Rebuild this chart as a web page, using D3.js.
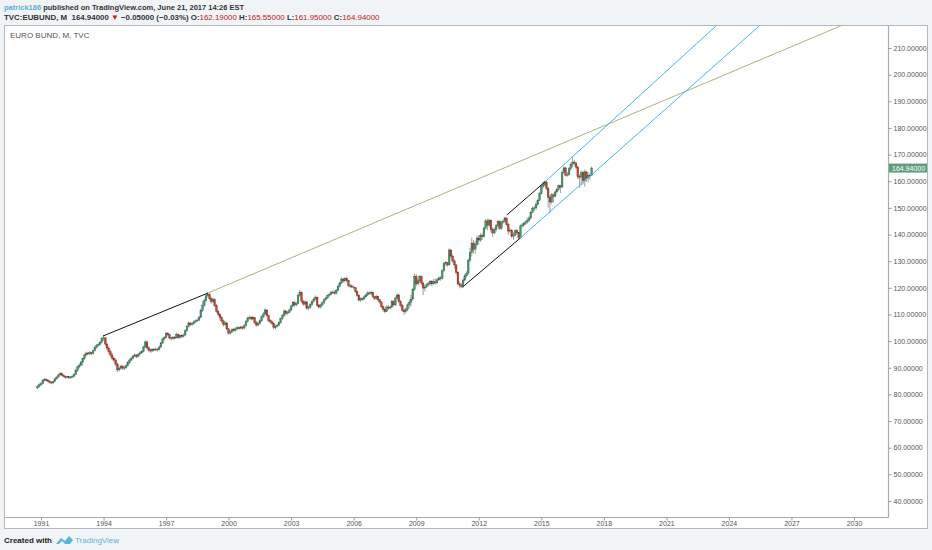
<!DOCTYPE html>
<html><head><meta charset="utf-8">
<script src="https://cdn.jsdelivr.net/npm/d3@7"></script>
<style>html,body{margin:0;padding:0;background:#f1f4f7;}svg{display:block}</style>
</head><body><svg id="c" width="932" height="550"></svg>
<script>
// ---------------- DATA ----------------
const firstMonth = "1990-11";
const firstOpen = 82.4;
const closes = [
 83.0, 83.6,
 84.0, 85.2, 85.6, 85.4, 85.0, 84.6, 84.3, 84.9, 85.8, 86.5, 87.3, 87.9,
 87.2, 86.8, 86.4, 86.6, 86.3, 86.5, 86.8, 87.5, 88.9, 90.3, 91.0, 92.1,
 93.4, 94.8, 95.5, 95.2, 95.7, 95.3, 96.4, 97.5, 98.3, 98.8, 99.6, 100.9,
 101.2, 98.9, 97.4, 96.0, 94.8, 93.5, 92.9, 91.4, 89.2, 89.8, 90.6, 89.9,
 90.0, 90.8, 91.9, 92.9, 93.6, 94.4, 94.8, 94.2, 95.1, 95.6, 96.0, 97.8,
 99.7, 97.5, 96.7, 96.3, 96.9, 96.7, 97.0, 96.8, 97.8, 99.3, 100.8, 101.4,
 103.0, 102.4, 101.2, 100.9, 101.4, 101.2, 102.6, 101.3, 102.0, 101.8, 102.3, 103.9,
 105.5, 106.8, 106.2, 106.5, 107.2, 107.6, 107.9, 109.0, 111.6, 113.5, 115.2, 117.0,
 117.5, 116.0, 114.8, 115.6, 113.4, 111.2, 110.0, 108.9, 107.6, 106.3, 106.8, 104.6,
 103.0, 103.5, 104.3, 104.0, 104.6, 105.0, 104.8, 105.3, 104.9, 105.9, 107.4, 108.6,
 109.0, 108.3, 108.8, 107.1, 106.0, 106.5, 107.6, 109.1, 110.2, 111.7, 109.6, 107.8,
 107.2, 106.6, 105.0, 105.6, 106.0, 106.9, 108.4, 109.5, 111.3, 110.4, 110.8, 111.7,
 113.2, 114.4, 113.6, 114.1, 117.2, 118.4, 115.0, 113.9, 114.7, 112.4, 112.6, 113.8,
 114.9, 115.8, 116.5, 113.4, 112.8, 113.6, 114.4, 115.6, 116.2, 117.1, 117.6, 118.4,
 118.4, 118.0, 119.1, 120.6, 121.8, 123.3, 122.6, 123.4, 122.8, 120.9, 120.6, 120.3,
 120.0, 118.6, 117.2, 115.4, 115.9, 115.8, 116.6, 117.3, 118.1, 117.9, 118.3, 116.7,
 116.0, 116.8, 115.5, 114.7, 112.9, 111.9, 111.0, 112.8, 112.4, 112.8, 114.9, 113.6,
 116.2, 117.3, 114.9, 113.4, 111.6, 111.0, 111.8, 113.6, 114.6, 115.8, 119.4, 124.3,
 121.5, 122.6, 124.2, 121.8, 119.9, 120.3, 121.1, 121.6, 122.4, 121.5, 122.3, 121.9,
 123.0, 123.7, 123.4, 126.4, 129.1, 129.4, 128.6, 134.2, 131.9, 130.1, 128.6, 125.8,
 121.5, 121.0, 120.6, 122.9, 124.5, 125.4, 130.4, 133.3, 136.8, 134.5, 136.2, 138.7,
 137.9, 139.7, 139.2, 142.4, 145.1, 143.5, 145.4, 142.0, 140.6, 141.9, 143.3, 144.9,
 142.3, 144.7, 145.0, 146.2, 143.8, 141.3, 141.6, 139.4, 139.8, 141.5, 140.7, 138.8,
 143.2, 143.6, 144.2, 144.7, 145.4, 146.2, 148.3, 149.9, 150.0, 151.4, 152.9, 155.3,
 158.1, 158.6, 159.7, 157.4, 153.9, 152.2, 154.9, 154.3, 156.0, 157.0, 158.3, 157.8,
 163.4, 165.0, 162.3, 162.5, 164.7, 166.3, 167.2, 166.8, 165.3, 161.7, 161.6, 163.2,
 160.2, 163.5, 161.2, 162.2, 162.19, 164.94
];
const highs = [
 83.5, 84.2,
 84.6, 85.7, 86.2, 86.1, 85.8, 85.4, 85.0, 85.3, 86.2, 86.9, 87.7, 88.4,
 88.2, 87.6, 87.1, 87.0, 86.9, 86.9, 87.3, 87.9, 89.6, 90.8, 91.6, 92.6,
 93.8, 95.3, 96.1, 95.9, 96.2, 96.0, 96.9, 98.1, 98.9, 99.4, 100.1, 101.5,
 102.3, 101.6, 99.5, 98.1, 96.8, 95.5, 94.1, 93.6, 91.9, 90.6, 91.2, 91.0,
 90.7, 91.3, 92.5, 93.4, 94.2, 94.9, 95.4, 95.1, 95.6, 96.1, 96.6, 98.3,
 100.3, 100.1, 98.0, 97.2, 97.4, 97.5, 97.6, 97.5, 98.3, 99.8, 101.3, 101.9,
 103.5, 103.3, 102.8, 101.7, 101.9, 101.9, 103.1, 102.9, 102.5, 102.6, 102.8, 104.4,
 106.0, 107.3, 107.2, 107.0, 107.7, 108.1, 108.5, 109.5, 112.2, 115.0, 116.0, 117.6,
 118.4, 118.0, 116.6, 116.3, 116.1, 113.9, 111.8, 110.6, 109.5, 108.1, 107.5, 107.3,
 104.9, 104.1, 104.8, 104.9, 105.2, 105.6, 105.5, 105.8, 105.6, 106.4, 107.9, 109.2,
 109.6, 109.3, 109.4, 109.0, 107.6, 107.0, 108.2, 109.7, 111.0, 112.4, 111.9, 109.9,
 108.3, 107.7, 106.9, 106.2, 106.6, 107.4, 108.9, 110.2, 111.9, 111.8, 111.4, 112.3,
 113.8, 115.0, 115.1, 114.7, 117.8, 119.1, 118.6, 115.6, 115.3, 115.0, 113.4, 114.3,
 115.4, 116.3, 117.2, 116.8, 113.9, 114.1, 114.9, 116.1, 116.8, 117.6, 118.2, 118.9,
 119.0, 119.1, 119.6, 121.1, 122.3, 123.9, 123.8, 124.0, 124.2, 123.1, 121.5, 121.3,
 120.9, 120.3, 119.0, 117.6, 116.4, 116.5, 117.1, 117.8, 118.7, 118.6, 118.9, 118.5,
 117.0, 117.3, 117.0, 115.9, 115.0, 113.4, 112.4, 113.5, 113.6, 113.3, 115.4, 115.3,
 116.8, 117.9, 117.8, 115.4, 113.9, 112.3, 112.6, 114.2, 115.6, 117.5, 120.0, 125.4,
 125.1, 123.3, 124.8, 124.6, 122.3, 121.2, 121.7, 122.3, 123.0, 122.9, 123.4, 123.5,
 123.6, 124.3, 124.4, 127.0, 129.8, 130.1, 129.8, 134.9, 134.6, 132.6, 130.8, 128.9,
 126.2, 122.4, 121.9, 123.5, 125.2, 126.2, 131.0, 135.0, 138.8, 137.9, 137.6, 139.6,
 139.8, 140.4, 140.3, 143.0, 145.8, 145.9, 146.0, 145.6, 142.7, 142.6, 143.9, 145.4,
 145.4, 145.2, 145.6, 146.7, 146.4, 144.4, 142.5, 142.0, 140.9, 142.1, 142.0, 141.0,
 143.8, 144.2, 144.8, 145.3, 146.3, 146.9, 148.9, 150.5, 150.8, 152.4, 153.4, 156.0,
 158.8, 159.7, 160.3, 160.4, 157.9, 154.8, 155.6, 155.5, 156.6, 157.6, 158.8, 158.7,
 164.1, 165.6, 165.4, 163.5, 165.3, 167.0, 168.9, 168.0, 167.4, 165.8, 162.6, 164.0,
 164.0, 164.4, 163.9, 163.4, 162.9, 165.55
];
const lows = [
 82.0, 82.6,
 83.1, 83.7, 84.8, 84.9, 84.6, 84.1, 83.8, 84.0, 84.6, 85.5, 86.2, 87.0,
 86.8, 86.4, 85.9, 86.0, 85.8, 85.9, 86.1, 86.4, 87.1, 88.4, 89.7, 90.6,
 90.8, 93.0, 94.4, 94.6, 94.8, 94.7, 95.0, 96.1, 97.2, 97.9, 98.3, 99.2,
 100.1, 98.2, 96.5, 95.2, 93.9, 92.7, 92.1, 90.5, 88.4, 88.6, 89.3, 89.1,
 89.2, 89.7, 90.5, 91.5, 92.5, 93.2, 93.9, 93.6, 93.9, 94.7, 95.2, 95.8,
 97.3, 97.0, 96.0, 95.6, 95.8, 96.1, 96.2, 96.2, 96.4, 97.4, 98.9, 100.2,
 101.0, 101.9, 100.6, 100.2, 100.5, 100.7, 101.0, 100.8, 100.9, 101.1, 101.3, 102.0,
 103.5, 105.1, 105.6, 105.7, 106.1, 106.8, 107.2, 107.5, 108.6, 110.9, 112.8, 114.8,
 116.4, 115.4, 114.0, 114.2, 112.8, 110.6, 109.3, 108.0, 106.8, 105.4, 105.7, 103.9,
 102.4, 102.6, 103.2, 103.4, 103.6, 104.2, 104.2, 104.5, 104.2, 104.5, 105.5, 107.0,
 108.1, 107.7, 107.8, 106.4, 105.4, 105.6, 106.2, 107.2, 108.6, 109.8, 109.0, 107.1,
 106.5, 106.0, 104.4, 104.5, 105.1, 105.6, 106.5, 107.9, 109.1, 109.6, 109.9, 110.4,
 111.2, 112.7, 112.8, 113.0, 113.8, 116.6, 114.4, 113.2, 113.3, 111.8, 111.6, 112.2,
 113.3, 114.4, 115.3, 112.9, 112.1, 112.2, 113.1, 114.0, 115.2, 115.8, 116.7, 117.2,
 117.7, 117.4, 117.6, 118.8, 120.1, 121.4, 121.9, 122.0, 122.1, 120.3, 119.9, 119.8,
 119.3, 118.1, 116.6, 114.9, 114.8, 115.1, 115.4, 116.2, 116.9, 117.3, 117.5, 116.2,
 115.4, 115.6, 115.0, 114.0, 112.3, 111.0, 110.5, 110.9, 111.7, 112.0, 112.3, 113.0,
 113.1, 115.6, 114.2, 112.7, 110.9, 109.9, 110.4, 111.2, 112.3, 112.9, 115.1, 118.8,
 120.6, 120.9, 121.8, 121.1, 117.3, 118.6, 119.8, 120.5, 120.9, 120.6, 121.1, 121.2,
 121.4, 122.5, 122.7, 123.1, 126.0, 128.2, 127.9, 128.3, 131.0, 129.4, 127.2, 124.9,
 120.9, 119.9, 119.8, 120.1, 122.5, 123.8, 124.9, 129.6, 131.8, 132.8, 132.9, 135.5,
 136.2, 137.3, 138.0, 138.8, 141.8, 141.6, 142.9, 140.9, 139.1, 140.1, 141.2, 142.7,
 141.7, 141.8, 144.0, 144.4, 143.2, 139.9, 140.7, 138.7, 138.0, 139.3, 140.1, 138.3,
 138.5, 142.6, 142.9, 143.6, 144.1, 144.8, 145.7, 148.0, 148.8, 149.2, 150.8, 152.5,
 155.0, 157.3, 158.1, 156.7, 150.1, 148.1, 151.4, 151.9, 153.9, 155.3, 156.4, 155.5,
 157.4, 162.8, 161.8, 161.7, 162.0, 163.9, 165.2, 165.6, 164.6, 160.8, 157.5, 158.5,
 158.8, 157.9, 159.8, 159.6, 160.6, 161.95
];
const yTicks = [40, 50, 60, 70, 80, 90, 100, 110, 120, 130, 140, 150, 160, 170, 180, 190, 200, 210];
const xTickYears = [1991, 1994, 1997, 2000, 2003, 2006, 2009, 2012, 2015, 2018, 2021, 2024, 2027, 2030];
const lastPrice = 164.94;
// trend lines: [decimal year, price] pairs
const blackLine1 = [[1993.97, 101.9], [1999.01, 118.05]];
const oliveLine = [[1999.01, 118.05], [2029.45, 218.6]];
const blackLine2 = [[2011.21, 120.2], [2013.98, 138.6]];
const blackLine3 = [[2013.34, 147.3], [2015.18, 159.8]];
const blueLower = [[2013.98, 138.6], [2025.5, 218.6]];
const blueUpper = [[2015.18, 159.8], [2023.43, 218.6]];
const headerUser = "patrick186";
const headerRest = " published on TradingView.com, June 21, 2017 14:26 EST";
const symbolLine = ["TVC:EUBUND, M\u00a0\u00a0164.94000 ", "▼", " −0.05000 (−0.03%) O:", "162.19000", " H:", "165.55000", " L:", "161.95000", " C:", "164.94000"];
const chartTitle = "EURO BUND, M, TVC";

// ---------------- DRAW ----------------
const svg = d3.select("#c");
const font = "'Liberation Sans', Arial, sans-serif";
const parseM = d3.timeParse("%Y-%m");
const m0 = parseM(firstMonth);
const bars = closes.map((c, i) => ({
  date: d3.timeMonth.offset(m0, i),
  open: i === 0 ? firstOpen : closes[i - 1],
  close: c, high: highs[i], low: lows[i]
}));
function yearToDate(y) {
  const yr = Math.floor(y);
  const a = new Date(yr, 0, 1), b = new Date(yr + 1, 0, 1);
  return new Date(a.getTime() + (y - yr) * (b - a));
}

const x = d3.scaleTime().domain([new Date(1991, 0, 1), new Date(2030, 0, 1)]).range([41, 854]);
const y = d3.scaleLinear().domain([40, 210]).range([501, 48]);

// page background
svg.append("rect").attr("width", 932).attr("height", 550).attr("fill", "#f1f4f7");
// chart frame
svg.append("rect").attr("x", 4.5).attr("y", 25.5).attr("width", 923).attr("height", 503)
  .attr("fill", "#fff").attr("stroke", "#b4b8bc").attr("stroke-width", 1);

// header
const h1 = svg.append("text").attr("x", 4).attr("y", 10).attr("font-family", font)
  .attr("font-size", 7.5).attr("font-weight", "bold").attr("fill", "#333");
h1.append("tspan").attr("fill", "#5aaee0").text(headerUser);
h1.append("tspan").text(headerRest);
const h2 = svg.append("text").attr("x", 4).attr("y", 20).attr("font-family", font)
  .attr("font-size", 7.9).attr("font-weight", "bold").attr("fill", "#333");
symbolLine.forEach((s, i) => {
  const red = (i === 1 || (i >= 3 && i % 2 === 1));
  h2.append("tspan").attr("fill", red ? "#b8201c" : "#333")
    .attr("font-weight", red && i !== 1 ? "normal" : "bold").text(s);
});

svg.append("text").attr("x", 10).attr("y", 38).attr("font-family", font)
  .attr("font-size", 8).attr("fill", "#555").text(chartTitle);

// plot clip
svg.append("defs").append("clipPath").attr("id", "plot")
  .append("rect").attr("x", 5).attr("y", 26).attr("width", 883).attr("height", 491);
const plot = svg.append("g").attr("clip-path", "url(#plot)");

// candles
const bw = 1.7;
const cg = plot.append("g");
cg.selectAll("line.wick").data(bars).join("line").attr("class", "wick")
  .attr("x1", d => x(d.date)).attr("x2", d => x(d.date))
  .attr("y1", d => y(d.high)).attr("y2", d => y(d.low))
  .attr("stroke", "#858587").attr("stroke-width", 0.8);
cg.selectAll("rect.body").data(bars).join("rect").attr("class", "body")
  .attr("x", d => x(d.date) - bw / 2).attr("width", bw)
  .attr("y", d => y(Math.max(d.open, d.close)))
  .attr("height", d => Math.max(0.8, Math.abs(y(d.open) - y(d.close))))
  .attr("fill", d => d.close >= d.open ? "#45976d" : "#c2452f")
  .attr("stroke", d => d.close >= d.open ? "#2c5e45" : "#6e2116")
  .attr("stroke-width", 0.35);

// trend lines
const line = d3.line().x(p => x(yearToDate(p[0]))).y(p => y(p[1]));
function drawLine(pts, color, w) {
  plot.append("path").attr("d", line(pts)).attr("fill", "none")
    .attr("stroke", color).attr("stroke-width", w);
}
drawLine(oliveLine, "#a9b47c", 1);
drawLine(blackLine1, "#111", 1);
drawLine(blackLine2, "#111", 1);
drawLine(blackLine3, "#111", 1);
drawLine(blueLower, "#43b8e4", 1);
drawLine(blueUpper, "#43b8e4", 1);

// axes lines
svg.append("line").attr("x1", 888.5).attr("x2", 888.5).attr("y1", 25.5).attr("y2", 517.5)
  .attr("stroke", "#a8acb0").attr("stroke-width", 1.2);
svg.append("line").attr("x1", 4.5).attr("x2", 888.5).attr("y1", 517.5).attr("y2", 517.5)
  .attr("stroke", "#a8acb0").attr("stroke-width", 1.2);

// y axis
const yAxis = d3.axisRight(y).tickValues(yTicks).tickSize(3).tickPadding(2)
  .tickFormat(d => d.toFixed(5));
const ya = svg.append("g").attr("transform", "translate(888.5,0)").call(yAxis);
ya.select(".domain").remove();
ya.selectAll("line").attr("stroke", "#999");
ya.selectAll("text").attr("font-family", font).attr("font-size", 7).attr("fill", "#555");

// x axis
const xAxis = d3.axisBottom(x).tickValues(xTickYears.map(v => new Date(v, 0, 1)))
  .tickSize(3).tickPadding(1).tickFormat(d3.timeFormat("%Y"));
const xa = svg.append("g").attr("transform", "translate(0,517.5)").call(xAxis);
xa.select(".domain").remove();
xa.selectAll("line").attr("stroke", "#999");
xa.selectAll("text").attr("font-family", font).attr("font-size", 7).attr("fill", "#555");

// last price label
const ly = y(lastPrice);
svg.append("rect").attr("x", 889).attr("y", ly - 4.5).attr("width", 38).attr("height", 9)
  .attr("fill", "#5e9e7c");
svg.append("text").attr("x", 892).attr("y", ly + 2.5).attr("font-family", font)
  .attr("font-size", 7).attr("fill", "#fff").text(lastPrice.toFixed(5));

// footer
svg.append("text").attr("x", 4).attr("y", 543).attr("font-family", font)
  .attr("font-size", 8).attr("font-weight", "bold").attr("fill", "#222").text("Created with");
const logo = svg.append("g").attr("transform", "translate(56,536)");
logo.append("path").attr("d", "M0,8 L5,2 L9,5 L13,0 L17,4 L14,8 Z").attr("fill", "#5ab4e0");
logo.append("path").attr("d", "M3,8 L6,5 L9,8 Z").attr("fill", "#fff");
svg.append("text").attr("x", 75).attr("y", 543).attr("font-family", font)
  .attr("font-size", 8).attr("fill", "#5ab4e0").text("TradingView");
</script></body></html>
